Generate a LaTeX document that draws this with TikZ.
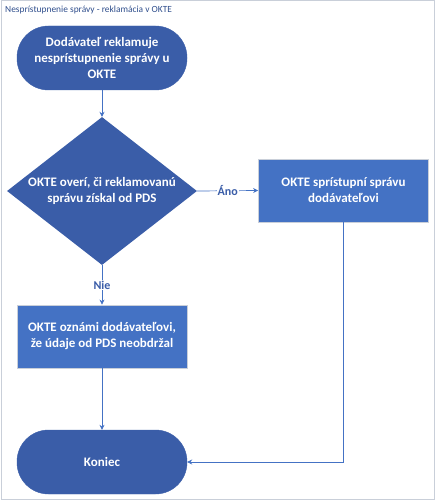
\documentclass[tikz,border=0pt]{standalone}
\usepackage{fontspec}
\setmainfont{Carlito}
\usetikzlibrary{shapes.geometric,arrows.meta}
\definecolor{darkb}{HTML}{3A5DA8}
\definecolor{midb}{HTML}{4472C4}
\definecolor{frameg}{HTML}{C9CFD9}
\definecolor{titleb}{HTML}{2F4E8C}
\tikzset{
  term/.style={draw=darkb, fill=darkb, rounded corners=31.5pt, minimum width=170pt, minimum height=64pt, text=white, font=\fontsize{13}{16}\selectfont\bfseries, align=center, inner sep=0pt},
  proc/.style={draw=frameg, line width=0.8pt, fill=midb, minimum width=170pt, minimum height=63pt, text=white, font=\fontsize{13}{16}\selectfont\bfseries, align=center, inner sep=0pt},
  dec/.style={draw=none, fill=darkb, diamond, aspect=1.284, minimum width=190pt, minimum height=148pt, text=white, font=\fontsize{13}{16}\selectfont\bfseries, align=center, inner sep=0pt},
  conn/.style={draw=midb, line width=0.7pt, -{Stealth[length=5pt,width=5pt]}},
  lab/.style={fill=white, text=darkb, font=\fontsize{12}{14}\selectfont\bfseries, inner sep=1pt}
}
\begin{document}
\begin{tikzpicture}[x=1pt,y=-1pt]
\useasboundingbox (0,0) rectangle (436,500);
\draw[frameg, line width=1pt] (1,1) rectangle (434,499);
\node[anchor=west, text=titleb, font=\fontsize{9.4}{11}\selectfont, inner sep=0pt] (title) at (5,10) {Nesprístupnenie správy - reklamácia v OKTE};
\node[term] (start) at (102,58) {Dodávateľ reklamuje\\nesprístupnenie správy u\\OKTE};
\node[dec] (check) at (102,191) {OKTE overí, či reklamovanú\\správu získal od PDS};
\node[proc] (yes) at (343.5,190.5) {OKTE sprístupní správu\\dodávateľovi};
\node[proc] (no) at (102,336.5) {OKTE oznámi dodávateľovi,\\že údaje od PDS neobdržal};
\node[term] (end) at (102,462) {Koniec};
\draw[conn] (start) -- (check);
\draw[conn] (check.east) -- node[lab] (ano) {Áno} (yes.west);
\draw[conn] (check.south) -- node[lab, pos=0.5] (nie) {Nie} (no.north);
\draw[conn] (no) -- (end);
\draw[conn] (yes.south) |- (end.east);
\end{tikzpicture}
\end{document}
